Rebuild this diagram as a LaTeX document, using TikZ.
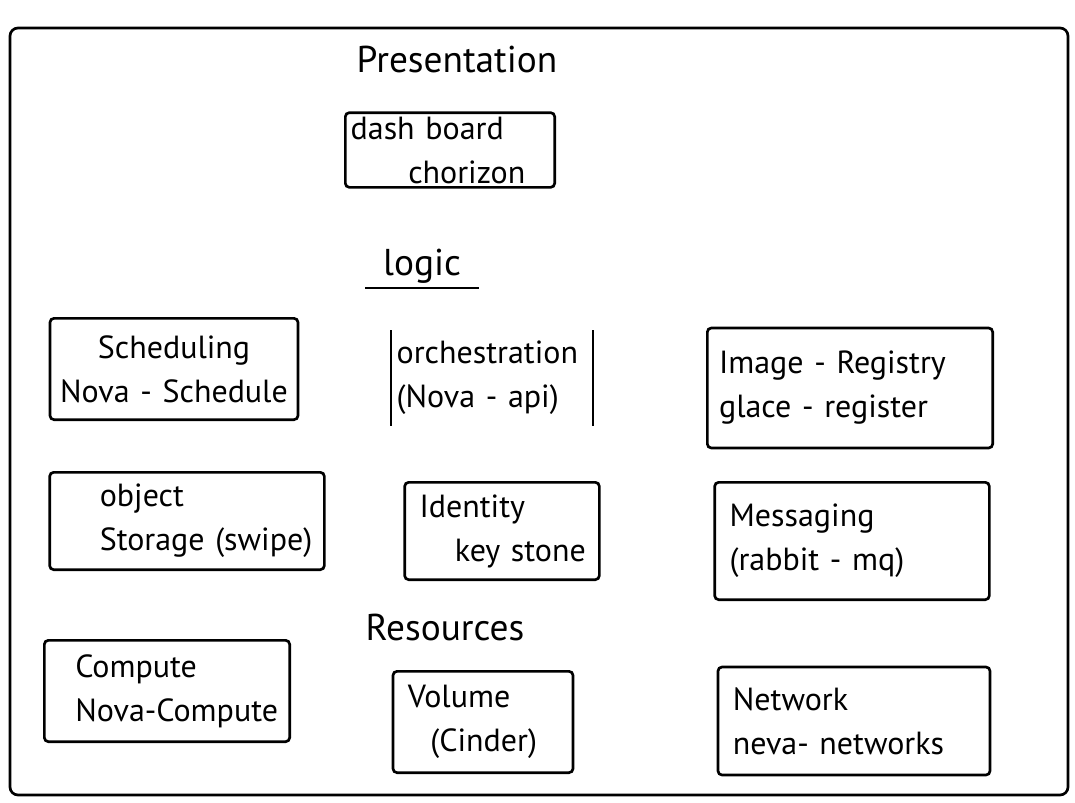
\documentclass[tikz,border=0pt]{standalone}
\usepackage{fontspec}
\setmainfont{PT Sans}
\usetikzlibrary{positioning}
\begin{document}
\begin{tikzpicture}[x=0.75pt, y=-0.75pt, font=\fontsize{24}{33}\selectfont,
                    blk/.style={draw, line width=2pt, rounded corners=3pt, align=left, inner xsep=4pt, inner ysep=2pt},
                    head/.style={font=\fontsize{28}{33}\selectfont}]
    \useasboundingbox (0,0) rectangle (1075,803);
    % outer frame
    \draw[line width=2pt, rounded corners=6pt] (10,28) rectangle (1068,795);

    % presentation
    \node[head] (p) at (457,60) {Presentation};
    \node[blk, text width=149pt, minimum height=56pt] (1) at (450,150) {dash board\\\hspace*{1.8em}chorizon};

    % logic
    \node[head] (l) at (422,266) {logic};
    \draw[line width=1.5pt] ([xshift=-10pt]l.south west) -- ([xshift=10pt]l.south east);
    \node[blk, align=center, text width=178pt, minimum height=76pt] (2) at (174,369) {Scheduling\\Nova - Schedule};
    \node[text width=143pt, minimum height=71pt, inner xsep=4pt, align=left] (3) at (492,378) {orchestration\\(Nova - api)};
    \draw[line width=2pt] (3.north west) -- (3.south west);
    \draw[line width=2pt] (3.north east) -- (3.south east);
    \node[blk, text width=206pt, minimum height=90pt] (4) at (850,388) {\hspace*{0.2em}Image - Registry\\\hspace*{0.2em}glace - register};
    \node[blk, text width=198pt, minimum height=73pt] (5) at (187,521) {\hspace*{1.4em}object\\\hspace*{1.4em}Storage (swipe)};
    \node[blk, text width=138pt, minimum height=73pt] (6) at (502,531) {\hspace*{0.3em}Identity\\\hspace*{1.4em}key stone};
    \node[blk, text width=198pt, minimum height=88pt] (7) at (852,541) {\hspace*{0.3em}Messaging\\\hspace*{0.3em}(rabbit - mq)};

    % resources
    \node[head] (r) at (445,628) {Resources};
    \node[blk, text width=176pt, minimum height=76pt] (8) at (167,691) {\hspace*{0.8em}Compute\\\hspace*{0.8em}Nova-Compute};
    \node[blk, text width=127pt, minimum height=76pt] (9) at (483,722) {\hspace*{0.3em}Volume\\\hspace*{1em}(Cinder)};
    \node[blk, text width=196pt, minimum height=81pt] (10) at (854,721) {\hspace*{0.3em}Network\\\hspace*{0.3em}neva- networks};
\end{tikzpicture}
\end{document}
